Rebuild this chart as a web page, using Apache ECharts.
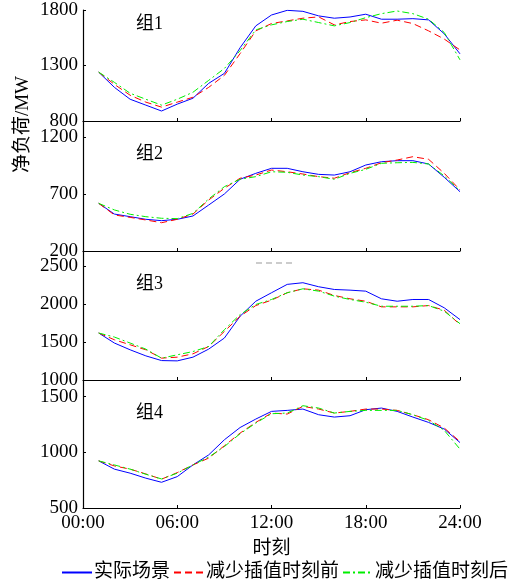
<!DOCTYPE html>
<html>
<head>
<meta charset="utf-8">
<script src="https://cdn.jsdelivr.net/npm/echarts@6/dist/echarts.min.js"></script>
<style>
html,body{margin:0;padding:0;background:#fff;}
#main{width:515px;height:586px;}
</style>
</head>
<body>
<div id="main"></div>
<script>
// 时刻 (h)
const hours = [1,2,3,4,5,6,7,8,9,10,11,12,13,14,15,16,17,18,19,20,21,22,23,24];

const names = ['实际场景', '减少插值时刻前', '减少插值时刻后'];
const groups = ['组1', '组2', '组3', '组4'];

// 组1
const g1Actual = [1240,1103,996,943,890,952,1005,1139,1229,1460,1657,1755,1797,1788,1747,1726,1737,1762,1717,1717,1722,1711,1585,1405];
const g1Before = [1240,1130,1032,970,925,970,1014,1103,1211,1407,1612,1678,1702,1726,1738,1666,1696,1711,1681,1708,1678,1612,1538,1440];
const g1After  = [1240,1148,1050,996,943,996,1059,1166,1273,1434,1621,1666,1696,1717,1687,1657,1687,1731,1767,1791,1767,1717,1597,1351];
// 组2
const g2Actual = [618,524,501,478,466,478,507,603,700,829,881,925,925,895,872,866,895,954,983,992,992,963,846,720];
const g2Before = [618,516,495,472,448,478,524,647,750,838,866,910,895,875,852,838,887,925,974,998,1027,1004,881,735];
const g2After  = [618,560,522,501,487,484,530,656,764,829,852,895,890,866,852,829,881,916,969,974,977,963,858,729];
// 组3
const g3Actual = [1619,1487,1398,1318,1256,1252,1301,1407,1553,1840,2038,2150,2260,2282,2229,2193,2184,2171,2070,2038,2061,2061,1951,1796];
const g3Before = [1619,1530,1464,1398,1288,1301,1345,1442,1640,1840,1981,2052,2150,2202,2184,2114,2070,2038,1964,1964,1964,1981,1919,1729];
const g3After  = [1619,1566,1487,1407,1288,1332,1375,1442,1663,1862,1995,2061,2150,2202,2171,2105,2061,2025,1972,1972,1972,1981,1906,1742];
// 组4
const g4Actual = [923,849,813,768,731,782,887,977,1113,1223,1299,1368,1377,1389,1338,1317,1329,1383,1398,1368,1317,1269,1209,1088];
const g4Before = [923,878,849,806,759,818,887,948,1059,1173,1269,1353,1344,1413,1389,1353,1368,1389,1389,1377,1338,1293,1218,1097];
const g4After  = [923,887,849,803,761,813,887,957,1052,1167,1263,1347,1353,1419,1398,1353,1368,1377,1377,1377,1338,1287,1197,1029];

// y 轴范围与刻度
const yMin = [800, 200, 1000, 500];
const yMax = [1800, 1340, 2700, 1650];
const yTicks = [
  [800, 1300, 1800],
  [200, 700, 1200],
  [1000, 1500, 2000, 2500],
  [500, 1000, 1500]
];

const groupData = [
  [g1Actual, g1Before, g1After],
  [g2Actual, g2Before, g2After],
  [g3Actual, g3Before, g3After],
  [g4Actual, g4Before, g4After]
];

const serif = "'Liberation Serif','Noto Sans CJK SC'";
const colors = ['#0000ff', '#ff0000', '#00ee00'];
const dashes = ['solid', [7, 4], [7, 3, 2, 3]];

// 每个子图的位置
const gridTop = [10, 121, 251, 380];
const gridHeight = [111, 130, 129, 128];

var myChart = echarts.init(document.getElementById('main'));

var grids = [], xAxes = [], yAxes = [], series = [], titles = [];
for (var i = 0; i < 4; i++) {
  grids.push({ left: 83, width: 377, top: gridTop[i], height: gridHeight[i] });
  xAxes.push({
    type: 'value', gridIndex: i, min: 0, max: 24, interval: 6,
    axisLine: { lineStyle: { color: '#000', width: 1.2 } },
    axisTick: { inside: true, length: 3, lineStyle: { color: '#000' } },
    splitLine: { show: false },
    axisLabel: {
      show: i === 3, color: '#000', fontFamily: serif, fontSize: 19, margin: 6,
      formatter: function (v) { return (v < 10 ? '0' + v : v) + ':00'; }
    },
    name: i === 3 ? '时刻' : '', nameLocation: 'middle', nameGap: 32,
    nameTextStyle: { color: '#000', fontFamily: serif, fontSize: 19 }
  });
  yAxes.push({
    type: 'value', gridIndex: i, min: yMin[i], max: yMax[i],
    axisLine: { show: true, lineStyle: { color: '#000', width: 1.2 } },
    axisTick: { show: true, inside: true, length: 3, customValues: yTicks[i], lineStyle: { color: '#000' } },
    splitLine: { show: false },
    axisLabel: {
      color: '#000', fontFamily: serif, fontSize: 19, margin: 5, customValues: yTicks[i],
      formatter: function (v) { return String(v); }
    }
  });
  titles.push({
    text: groups[i], left: 131, top: gridTop[i] + (i === 0 ? 0 : 19),
    textStyle: { color: '#000', fontFamily: serif, fontSize: 18, fontWeight: 'normal' }
  });
  for (var k = 0; k < 3; k++) {
    series.push({
      name: names[k], type: 'line', xAxisIndex: i, yAxisIndex: i,
      data: hours.map(function (h, j) { return [h, groupData[i][k][j]]; }),
      symbol: 'none', color: colors[k],
      lineStyle: { color: colors[k], width: 1, type: dashes[k] }
    });
  }
}

myChart.setOption({
  animation: false,
  title: titles,
  grid: grids,
  xAxis: xAxes,
  yAxis: yAxes,
  legend: {
    data: names, left: 56, top: 558, width: 470, itemWidth: 30, itemHeight: 10, itemGap: 3,
    itemStyle: { opacity: 0 },
    textStyle: { color: '#000', fontFamily: serif, fontSize: 19, padding: [0, 0, 0, -3] }
  },
  graphic: [
    {
      type: 'text', left: 14, top: 76, rotation: Math.PI / 2,
      style: { text: '净负荷/MW', fill: '#000', font: "19px 'Liberation Serif','Noto Sans CJK SC'" }
    },
    {
      type: 'line', shape: { x1: 256, y1: 263, x2: 292, y2: 263 },
      style: { stroke: '#999', lineWidth: 1, lineDash: [6, 4] }
    }
  ],
  series: series
});
</script>
</body>
</html>
